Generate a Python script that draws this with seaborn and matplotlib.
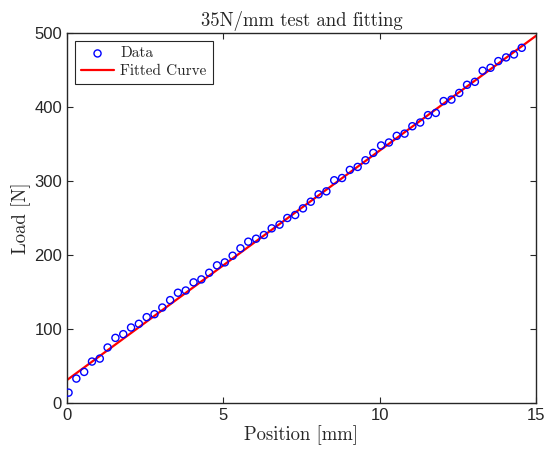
import numpy as np
import pandas as pd
import matplotlib
matplotlib.use('Agg')
import matplotlib.pyplot as plt
import seaborn as sb

position = [0.05, 0.30, 0.55, 0.80, 1.05, 1.30, 1.55, 1.80, 2.05, 2.30,
            2.55, 2.80, 3.05, 3.30, 3.55, 3.80, 4.05, 4.30, 4.55, 4.80,
            5.05, 5.30, 5.55, 5.80, 6.05, 6.30, 6.55, 6.80, 7.05, 7.30,
            7.55, 7.80, 8.05, 8.30, 8.55, 8.80, 9.05, 9.30, 9.55, 9.80,
            10.05, 10.30, 10.55, 10.80, 11.05, 11.30, 11.55, 11.80, 12.05, 12.30,
            12.55, 12.80, 13.05, 13.30, 13.55, 13.80, 14.05, 14.30, 14.55]
load = [14, 33, 42, 56, 60, 75, 88, 93, 102, 107,
        116, 120, 129, 139, 149, 152, 163, 167, 176, 186,
        190, 199, 209, 218, 222, 227, 236, 241, 250, 254,
        263, 272, 282, 286, 301, 304, 315, 319, 328, 338,
        348, 352, 361, 364, 374, 379, 389, 392, 408, 410,
        419, 430, 434, 449, 453, 462, 467, 471, 480]

# Fitted curve end points
fit_x = [0, 15]
fit_y = [31, 496]

sb.set_style('ticks')

data = pd.DataFrame({'Position': position, 'Load': load})
fit = pd.DataFrame({'Position': fit_x, 'Load': fit_y})

fig = plt.figure(figsize=(5.49, 4.55), dpi=100)
ax = fig.add_axes([0.122, 0.1143, 0.854, 0.8132])

sb.scatterplot(data=data, x='Position', y='Load', ax=ax, marker='o', s=26,
               facecolor='none', edgecolor='#0000ff', linewidth=1.0, label='Data', zorder=3)
sb.lineplot(data=fit, x='Position', y='Load', ax=ax, color='#ff0000', linewidth=1.6,
            label='Fitted Curve', zorder=2)

ax.set_xlim(0, 15)
ax.set_ylim(0, 500)
ax.set_xticks([0, 5, 10, 15])
ax.set_yticks([0, 100, 200, 300, 400, 500])

serif = 'cmr10'
ax.set_title('35N/mm test and fitting', family=serif, fontsize=13.5, pad=5)
ax.set_xlabel('Position [mm]', family=serif, fontsize=13.5, labelpad=2)
ax.set_ylabel('Load [N]', family=serif, fontsize=13.5, labelpad=2)

for lab in ax.get_xticklabels() + ax.get_yticklabels():
    lab.set_family('Liberation Sans')
    lab.set_fontsize(12)
    lab.set_color('#262626')

ax.tick_params(direction='in', length=4, width=0.8, top=True, right=True, color='#262626')
for sp in ax.spines.values():
    sp.set_visible(True)
    sp.set_color('#262626')
    sp.set_linewidth(1.0)

leg = ax.legend(loc='upper left', fancybox=False, framealpha=1, edgecolor='#262626',
                prop={'family': serif, 'size': 11}, handlelength=2.2,
                borderaxespad=0.5, handletextpad=0.4, borderpad=0.4, labelspacing=0.25)
leg.get_frame().set_linewidth(0.8)

fig.savefig('out.png', dpi=100)
